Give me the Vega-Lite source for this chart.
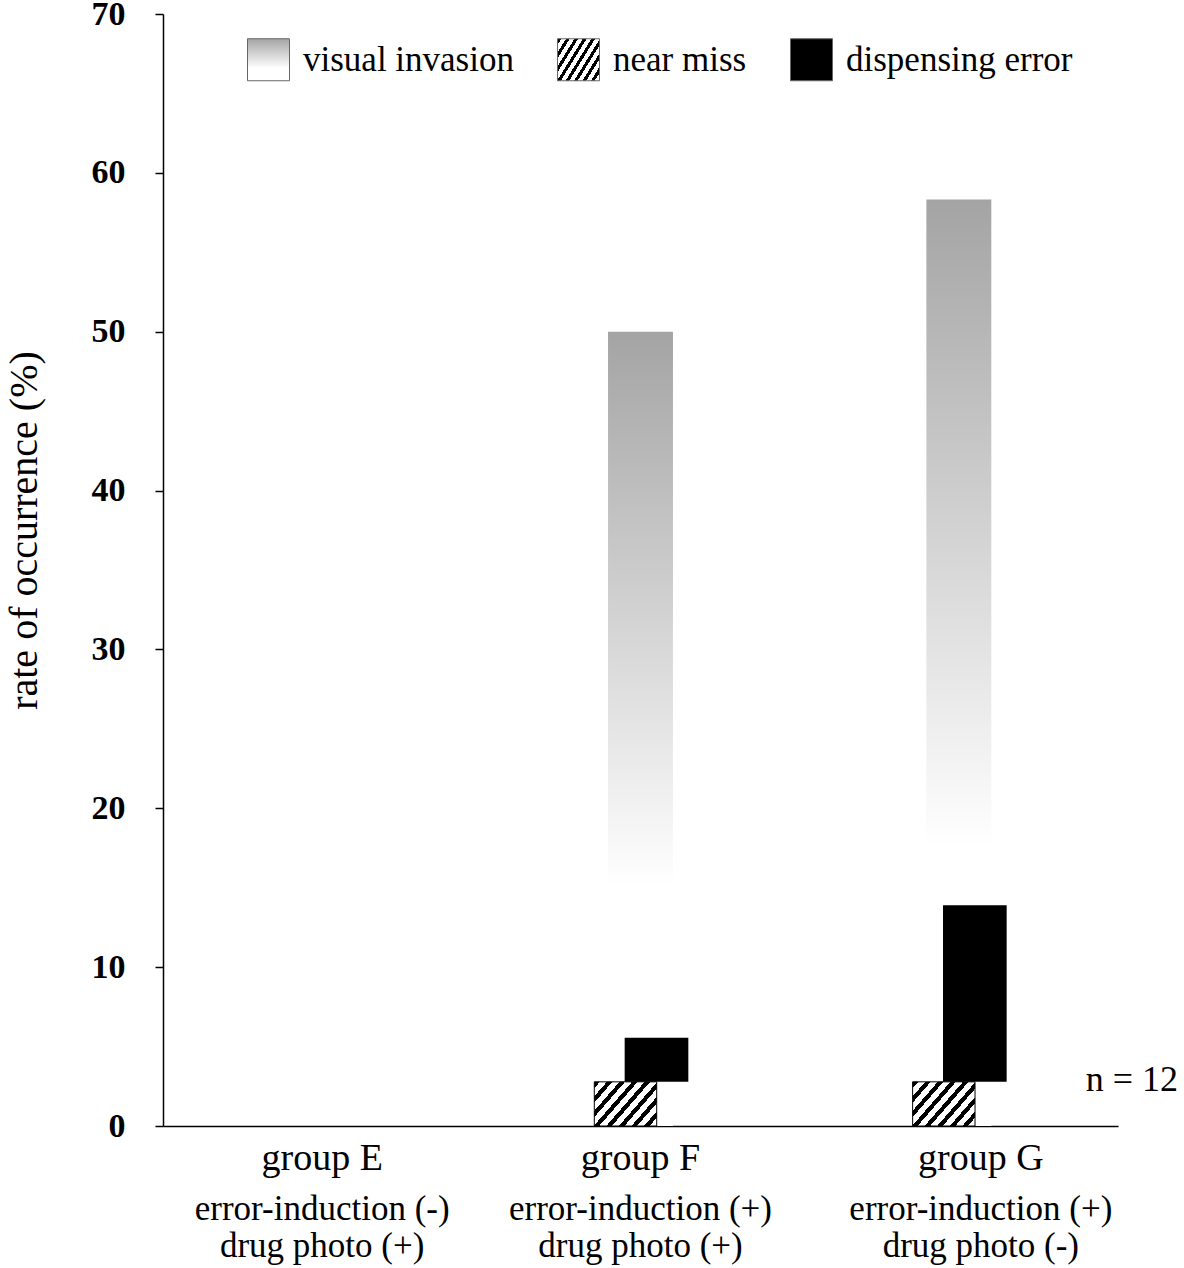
{
  "$schema": "https://vega.github.io/schema/vega-lite/v6.json",
  "width": 955,
  "height": 1112,
  "autosize": {"type": "none"},
  "padding": {"left": 163, "top": 14, "right": 66, "bottom": 142},
  "background": "white",
  "config": {
    "font": "Liberation Serif",
    "view": {"stroke": null},
    "axis": {"grid": false, "domainColor": "black", "tickColor": "black", "labelColor": "black", "titleColor": "black", "labelFont": "Liberation Serif", "titleFont": "Liberation Serif"},
    "legend": {"labelFont": "Liberation Serif"}
  },
  "data": {
    "values": [
      {"group": "group F", "series": "visual invasion", "start": 0, "end": 50},
      {"group": "group G", "series": "visual invasion", "start": 0, "end": 58.33},
      {"group": "group F", "series": "near miss", "start": 0, "end": 2.78},
      {"group": "group G", "series": "near miss", "start": 0, "end": 2.78},
      {"group": "group F", "series": "dispensing error", "start": 2.78, "end": 5.56},
      {"group": "group G", "series": "dispensing error", "start": 2.78, "end": 13.89}
    ]
  },
  "encoding": {
    "x": {
      "field": "group", "type": "nominal",
      "scale": {"domain": ["group E", "group F", "group G"], "paddingInner": 0, "paddingOuter": 0},
      "axis": null
    },
    "y": {
      "field": "start", "type": "quantitative",
      "scale": {"domain": [0, 70], "nice": false},
      "axis": {"title": "rate of occurrence (%)", "values": [0, 10, 20, 30, 40, 50, 60, 70], "tickSize": 8, "domainWidth": 1.5, "tickWidth": 1.5, "labelFontSize": 34, "labelFontWeight": "bold", "labelPadding": 30, "titleFontSize": 40, "titleFontWeight": "normal", "titlePadding": 47, "titleY": 516}
    },
    "fill": {
      "field": "series", "type": "nominal",
      "scale": {
        "domain": ["visual invasion", "near miss", "dispensing error"],
        "range": [
          {"expr": "{gradient: 'linear', x1: 0, y1: 0, x2: 0, y2: 1, stops: [{offset: 0, color: '#a4a4a4'}, {offset: 0.7, color: '#ffffff'}, {offset: 1, color: '#ffffff'}]}"},
          {"expr": "{gradient: 'linear', x1: 0, y1: 0, x2: 1.17, y2: 0.72, stops: [{offset: 0, color: '#000'}, {offset: 0.055, color: '#000'}, {offset: 0.055, color: '#fff'}, {offset: 0.125, color: '#fff'}, {offset: 0.125, color: '#000'}, {offset: 0.18, color: '#000'}, {offset: 0.18, color: '#fff'}, {offset: 0.25, color: '#fff'}, {offset: 0.25, color: '#000'}, {offset: 0.305, color: '#000'}, {offset: 0.305, color: '#fff'}, {offset: 0.375, color: '#fff'}, {offset: 0.375, color: '#000'}, {offset: 0.43, color: '#000'}, {offset: 0.43, color: '#fff'}, {offset: 0.5, color: '#fff'}, {offset: 0.5, color: '#000'}, {offset: 0.555, color: '#000'}, {offset: 0.555, color: '#fff'}, {offset: 0.625, color: '#fff'}, {offset: 0.625, color: '#000'}, {offset: 0.68, color: '#000'}, {offset: 0.68, color: '#fff'}, {offset: 0.75, color: '#fff'}, {offset: 0.75, color: '#000'}, {offset: 0.805, color: '#000'}, {offset: 0.805, color: '#fff'}, {offset: 0.875, color: '#fff'}, {offset: 0.875, color: '#000'}, {offset: 0.93, color: '#000'}, {offset: 0.93, color: '#fff'}, {offset: 1, color: '#fff'}]}"},
          "#000000"
        ]
      },
      "legend": {
        "title": null, "orient": "none", "direction": "horizontal", "legendX": 84, "legendY": 24,
        "symbolType": "square", "symbolSize": 1764, "symbolStrokeWidth": 1, "symbolStrokeColor": "#666666", "symbolOpacity": 1,
        "labelFontSize": 35, "labelColor": "black", "labelOffset": 13, "columnPadding": 41, "labelLimit": 400
      }
    }
  },
  "layer": [
    {
      "transform": [{"filter": "datum.series == 'visual invasion'"}],
      "mark": {"type": "bar", "width": {"band": 0.204}, "xOffset": 0},
      "encoding": {
        "x": {
          "field": "group", "type": "nominal",
          "axis": {"title": null, "orient": "bottom", "labelAngle": 0, "ticks": false, "domainWidth": 1.5, "labelFontSize": 38, "labelPadding": 13, "labelBaseline": "top", "labelLimit": 0,
            "labelOffset": {"condition": {"test": "datum.value == 'group G'", "value": 22}, "value": 0}}
        },
        "y2": {"field": "end"}
      }
    },
    {
      "transform": [{"filter": "datum.series == 'near miss'"}],
      "mark": {"type": "bar", "width": {"band": 0.196}, "xOffset": -15, "stroke": "black", "strokeWidth": 1},
      "encoding": {"y2": {"field": "end"}}
    },
    {
      "transform": [{"filter": "datum.series == 'dispensing error'"}],
      "mark": {"type": "bar", "width": {"band": 0.2}, "xOffset": 16},
      "encoding": {"y2": {"field": "end"}}
    },
    {
      "data": {"values": [{"group": "group E", "start": 0}, {"group": "group F", "start": 0}, {"group": "group G", "start": 0}]},
      "mark": {"type": "text", "opacity": 0, "text": " "},
      "encoding": {
        "fill": {"value": "white"},
        "x": {
          "field": "group", "type": "nominal",
          "axis": {"title": null, "orient": "bottom", "labelAngle": 0, "ticks": false, "domain": false, "labelFontSize": 35, "labelLineHeight": 37, "labelPadding": 65, "labelBaseline": "top", "labelLimit": 0,
            "labelOffset": {"condition": {"test": "datum.value == 'group G'", "value": 22}, "value": 0},
            "labelExpr": "datum.value == 'group E' ? ['error-induction (-)', 'drug photo (+)'] : datum.value == 'group F' ? ['error-induction (+)', 'drug photo (+)'] : ['error-induction (+)', 'drug photo (-)']"}
        }
      }
    },
    {
      "data": {"values": [{"group": "group G", "start": 2.9, "label": "n = 12"}]},
      "mark": {"type": "text", "fontSize": 36, "dx": 173, "baseline": "middle", "align": "center"},
      "encoding": {
        "fill": {"value": "black"},
        "text": {"field": "label"}
      }
    }
  ],
  "resolve": {"axis": {"x": "independent"}}
}
